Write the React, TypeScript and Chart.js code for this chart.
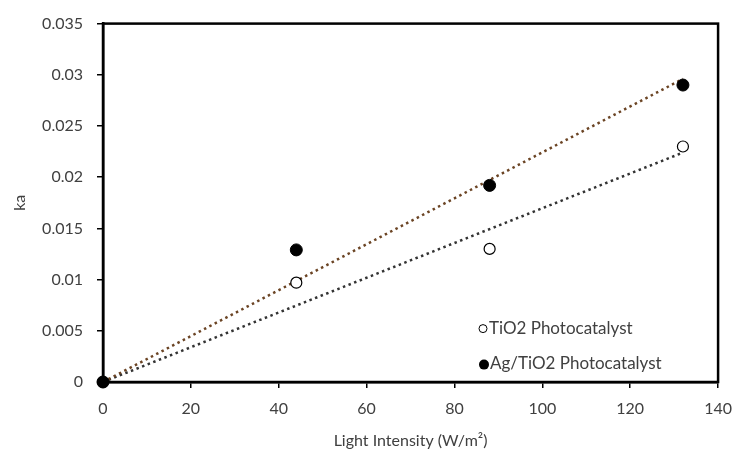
import { useEffect, useRef } from 'react';
import { Chart, registerables } from 'chart.js';
Chart.register(...registerables);

const intensity = [0, 44, 88, 132];
const tio2Ka = [0, 0.0097, 0.013, 0.023];
const agTio2Ka = [0, 0.0129, 0.0192, 0.029];
const trendX = [0, 132];
const tio2Trend = [0, 0.0224];
const agTrend = [0, 0.0296];
const seriesNames = ['TiO2 Photocatalyst', 'Ag/TiO2 Photocatalyst'];
const xTitle = 'Light Intensity (W/m²)';
const yTitle = 'ka';
const xTicks = { min: 0, max: 140, step: 20 };
const yTicks = { min: 0, max: 0.035, step: 0.005 };

const FONT = 'Lato, "Open Sans", sans-serif';
const TEXT = '#404040';

const framePlugin = {
  id: 'frame',
  afterDatasetsDraw(chart: any) {
    const { ctx, chartArea: a } = chart;
    ctx.save();
    ctx.strokeStyle = '#000';
    ctx.lineWidth = 2.5;
    ctx.strokeRect(a.left, a.top, a.right - a.left, a.bottom - a.top);
    ctx.restore();
  },
};

const legendPlugin = {
  id: 'insideLegend',
  afterDraw(chart: any) {
    const { ctx, chartArea: a } = chart;
    ctx.save();
    ctx.font = `17px ${FONT}`;
    ctx.textBaseline = 'middle';
    const mx = a.left + 380;
    const rows = [a.top + 305, a.top + 340];
    ctx.beginPath();
    ctx.arc(mx, rows[0], 4, 0, Math.PI * 2);
    ctx.fillStyle = '#fff';
    ctx.fill();
    ctx.strokeStyle = '#000';
    ctx.lineWidth = 1;
    ctx.stroke();
    ctx.beginPath();
    ctx.arc(mx + 1, rows[1] + 1, 5, 0, Math.PI * 2);
    ctx.fillStyle = '#000';
    ctx.fill();
    ctx.fillStyle = TEXT;
    ctx.fillText(seriesNames[0], mx + 6, rows[0]);
    ctx.fillText(seriesNames[1], mx + 7, rows[1]);
    ctx.restore();
  },
};

function fmt(v: number) {
  return String(Number(v.toFixed(4)));
}

export default function App() {
  const ref = useRef<HTMLCanvasElement>(null);
  useEffect(() => {
    if (!ref.current) return;
    const chart = new Chart(ref.current, {
      type: 'scatter',
      data: {
        datasets: [
          {
            label: seriesNames[1],
            data: intensity.map((x, i) => ({ x, y: agTio2Ka[i] })),
            backgroundColor: '#000',
            borderColor: '#000',
            pointRadius: 6,
            pointHoverRadius: 6,
            clip: false as any,
          },
          {
            label: seriesNames[0],
            data: intensity.map((x, i) => ({ x, y: tio2Ka[i] })),
            backgroundColor: '#fff',
            borderColor: '#000',
            borderWidth: 1.2,
            pointRadius: 5.5,
            pointHoverRadius: 5.5,
            clip: false as any,
          },
          {
            label: 'Ag trend',
            type: 'line' as any,
            data: trendX.map((x, i) => ({ x, y: agTrend[i] })),
            borderColor: '#6b4424',
            borderWidth: 2.5,
            borderDash: [2.5, 3.5],
            pointRadius: 0,
            showLine: true,
            fill: false,
          },
          {
            label: 'TiO2 trend',
            type: 'line' as any,
            data: trendX.map((x, i) => ({ x, y: tio2Trend[i] })),
            borderColor: '#333',
            borderWidth: 2.5,
            borderDash: [2.5, 3.5],
            pointRadius: 0,
            showLine: true,
            fill: false,
          },
        ],
      },
      options: {
        responsive: false,
        animation: false,
        layout: { padding: { top: 18, right: 18, left: 0, bottom: 0 } },
        plugins: { legend: { display: false }, tooltip: { enabled: false } },
        scales: {
          x: {
            type: 'linear',
            min: xTicks.min,
            max: xTicks.max,
            afterFit: (s: any) => { s.height = 75; },
            ticks: {
              stepSize: xTicks.step,
              color: TEXT,
              font: { family: FONT, size: 16 },
              padding: 11,
              callback: (v: any) => fmt(Number(v)),
            },
            grid: { drawOnChartArea: false, drawTicks: true, tickLength: 6, color: '#000', lineWidth: 1.5 },
            border: { display: true, color: '#000', width: 2.5 },
            title: {
              display: true,
              text: xTitle,
              color: TEXT,
              font: { family: FONT, size: 16 },
              padding: { top: 0, bottom: 7 },
            },
          },
          y: {
            type: 'linear',
            min: yTicks.min,
            max: yTicks.max,
            afterFit: (s: any) => { s.width = 103; },
            ticks: {
              stepSize: yTicks.step,
              color: TEXT,
              font: { family: FONT, size: 16 },
              padding: 14,
              callback: (v: any) => fmt(Number(v)),
            },
            grid: { drawOnChartArea: false, drawTicks: true, tickLength: 6, color: '#000', lineWidth: 1.5 },
            border: { display: true, color: '#000', width: 2.5 },
            title: {
              display: true,
              text: yTitle,
              color: TEXT,
              font: { family: FONT, size: 16 },
              padding: { top: 10, bottom: 0 },
            },
          },
        },
      },
      plugins: [framePlugin, legendPlugin],
    });
    return () => chart.destroy();
  }, []);
  return (
    <div style={{ position: 'absolute', left: 0, top: 0, width: 743, height: 457, background: '#fff' }}>
      <canvas ref={ref} width={743} height={457} style={{ width: 743, height: 457 }} />
    </div>
  );
}
